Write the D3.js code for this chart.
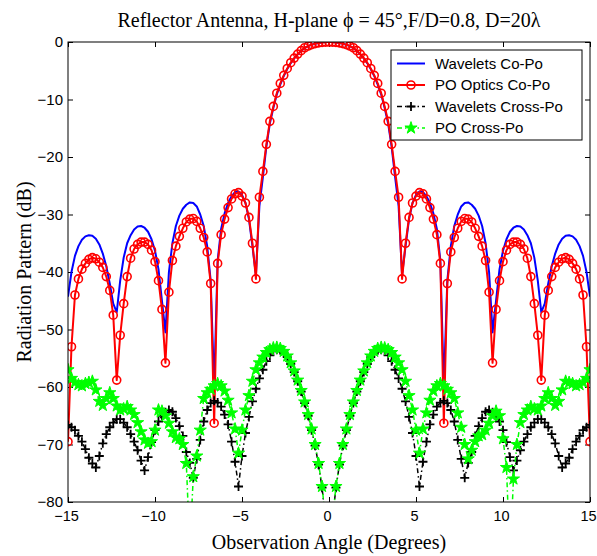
<!DOCTYPE html>
<html>
<head>
<meta charset="utf-8">
<script src="https://cdn.jsdelivr.net/npm/d3@7"></script>
<style>
  body { margin: 0; background: #fff; }
  text { fill: #000; }
</style>
</head>
<body>
<svg id="chart" width="597" height="556"></svg>
<script>
// Observation angles, degrees (0.2 degree sampling from -15 to 15)
const angleStep = 0.2;
const angles = d3.range(151).map(i => +(-15 + i * angleStep).toFixed(1));

// Wavelets co-polar pattern (dB)
const waveletsCoPo = [
  -44.3, -40, -37.2, -35.5, -34.4, -33.8, -33.6, -33.7, -34.2, -35.2,
  -36.8, -39, -42, -45.5, -47, -41.5, -37.5, -35, -33.6, -32.6,
  -32.1, -32, -32.3, -33, -34.3, -36.3, -39.5, -45, -50.5, -40,
  -35, -32, -30.2, -29, -28.3, -27.9, -28, -28.6, -30, -32,
  -35.5, -41.5, -60, -38, -32.5, -29.8, -28, -26.8, -26.1, -26,
  -26.6, -28, -30.8, -35.5, -40.5, -28.5, -23.5, -18.2, -14.2, -11.5,
  -9.1, -7.4, -5.9, -4.7, -3.7, -2.85, -2.15, -1.55, -1.05, -0.72,
  -0.47, -0.29, -0.16, -0.07, -0.02, 0,
  -0.02, -0.07, -0.16, -0.29, -0.47, -0.72, -1.05, -1.55, -2.15, -2.85,
  -3.7, -4.7, -5.9, -7.4, -9.1, -11.5, -14.2, -18.2, -23.5, -28.5,
  -40.5, -35.5, -30.8, -28, -26.6, -26, -26.1, -26.8, -28, -29.8,
  -32.5, -38, -60, -41.5, -35.5, -32, -30, -28.6, -28, -27.9,
  -28.3, -29, -30.2, -32, -35, -40, -50.5, -45, -39.5, -36.3,
  -34.3, -33, -32.3, -32, -32.1, -32.6, -33.6, -35, -37.5, -41.5,
  -47, -45.5, -42, -39, -36.8, -35.2, -34.2, -33.7, -33.6, -33.8,
  -34.4, -35.5, -37.2, -40, -44.3
];

// Physical optics co-polar pattern (dB)
const poCoPo = [
  -69.5, -53, -44, -41.2, -39.5, -38.5, -37.8, -37.5, -37.7, -38.3,
  -39.2, -40.8, -43.2, -47.5, -58.8, -51, -45.5, -40.8, -37.6, -36,
  -35.2, -34.8, -34.8, -35.2, -36.2, -38.2, -41.5, -46.5, -55.8, -43.5,
  -38, -35.5, -33.8, -32.4, -31.3, -30.8, -30.7, -31.2, -32.4, -34,
  -36.5, -42, -66.3, -38.5, -33.5, -30.8, -28.8, -27.3, -26.4, -26.2,
  -26.8, -28, -30.5, -35, -41.2, -27, -22.5, -17.8, -13.8, -11.2,
  -8.9, -7.2, -5.8, -4.6, -3.6, -2.8, -2.1, -1.5, -1.0, -0.7,
  -0.45, -0.28, -0.15, -0.07, -0.02, 0,
  -0.02, -0.07, -0.15, -0.28, -0.45, -0.7, -1.0, -1.5, -2.1, -2.8,
  -3.6, -4.6, -5.8, -7.2, -8.9, -11.2, -13.8, -17.8, -22.5, -27,
  -41.2, -35, -30.5, -28, -26.8, -26.2, -26.4, -27.3, -28.8, -30.8,
  -33.5, -38.5, -66.3, -42, -36.5, -34, -32.4, -31.2, -30.7, -30.8,
  -31.3, -32.4, -33.8, -35.5, -38, -43.5, -55.8, -46.5, -41.5, -38.2,
  -36.2, -35.2, -34.8, -34.8, -35.2, -36, -37.6, -40.8, -45.5, -51,
  -58.8, -47.5, -43.2, -40.8, -39.2, -38.3, -37.7, -37.5, -37.8, -38.5,
  -39.5, -41.2, -44, -53, -69.5
];

// Wavelets cross-polar pattern (dB)
const waveletsCrossPo = [
  -66.6, -67, -67.5, -68.5, -69.5, -70.8, -72.3, -73.3, -74, -72,
  -69.8, -68.2, -67, -66.2, -65.6, -65.6, -66.2, -67, -68.2, -69.5,
  -71, -72.8, -74.5, -72.2, -69.6, -67.5, -66, -65, -64.4, -64,
  -64.3, -65.4, -66.8, -68.5, -71.3, -73.2, -75.8, -72.5, -69.2, -66,
  -64, -62.8, -62.4, -62.7, -63.4, -64.8, -66.5, -69.5, -73, -77.3,
  -72, -68, -65.2, -62.5, -60.3, -58.5, -57, -55.5, -54.5, -53.8,
  -53.5, -53.6, -54, -54.8, -56, -57.4, -59, -60.8, -62.8, -65,
  -67.5, -70.2, -73.5, -77.5, -83, -95,
  -83, -77.5, -73.5, -70.2, -67.5, -65, -62.8, -60.8, -59, -57.4,
  -56, -54.8, -54, -53.6, -53.5, -53.8, -54.5, -55.5, -57, -58.5,
  -60.3, -62.5, -65.2, -68, -72, -77.3, -73, -69.5, -66.5, -64.8,
  -63.4, -62.7, -62.4, -62.8, -64, -66, -69.2, -72.5, -75.8, -73.2,
  -71.3, -68.5, -66.8, -65.4, -64.3, -64, -64.4, -65, -66, -67.5,
  -69.6, -72.2, -74.5, -72.8, -71, -69.5, -68.2, -67, -66.2, -65.6,
  -65.6, -66.2, -67, -68.2, -69.8, -72, -74, -73.3, -72.3, -70.8,
  -69.5, -68.5, -67.5, -67, -66.6
];

// Physical optics cross-polar pattern (dB)
const poCrossPo = [
  -57, -58.5, -59.2, -59.6, -59.8, -59.4, -59.2, -59, -60.5, -62.5,
  -63.2, -62, -61, -62, -63.3, -64, -63.8, -63.4, -64, -64.8,
  -66.2, -67.8, -69.2, -69.8, -69.5, -67.5, -64, -64.2, -65, -66.3,
  -67.8, -68.8, -69, -70, -73.3, -88, -75.6, -72, -67.5, -62,
  -61, -60.4, -59.8, -59.4, -59.8, -60.7, -62.3, -64.5, -67.3, -71.5,
  -67.5, -64, -61.5, -59, -57, -55.8, -54.8, -54, -53.5, -53.2,
  -53.1, -53.3, -53.8, -54.6, -55.8, -57.2, -58.8, -60.6, -62.6, -64.8,
  -67.3, -70, -73.3, -77.3, -83, -95,
  -83, -77.3, -73.3, -70, -67.3, -64.8, -62.6, -60.6, -58.8, -57.2,
  -55.8, -54.6, -53.8, -53.3, -53.1, -53.2, -53.5, -54, -54.8, -55.8,
  -57, -59, -61.5, -64, -67.5, -71.5, -67.3, -64.5, -62.3, -60.7,
  -59.8, -59.4, -59.8, -60.4, -61, -62, -64.5, -67, -70, -72.5,
  -71, -69.5, -68.5, -68.3, -67.5, -66.3, -65, -64.2, -65, -69,
  -74, -90, -76, -70, -66.2, -64.8, -64, -63.4, -63.8, -64,
  -63.3, -62, -61, -62, -63.2, -62.5, -60.5, -59, -59.2, -59.4,
  -59.8, -59.6, -59.2, -58.5, -57
];

const xTicks = [-15, -10, -5, 0, 5, 10, 15];
const yTicks = [0, -10, -20, -30, -40, -50, -60, -70, -80];

const titleText = "Reflector Antenna, H-plane \u03d5 = 45\u00b0,F/D=0.8, D=20\u03bb";
const xLabel = "Observation Angle (Degrees)";
const yLabel = "Radiation Pattern (dB)";
const legendLabels = ["Wavelets Co-Po", "PO Optics Co-Po", "Wavelets Cross-Po", "PO Cross-Po"];

// ---- layout ----
const W = 597, H = 556;
const margin = { top: 42, right: 7, bottom: 54, left: 68 };
const svg = d3.select("#chart");
const x = d3.scaleLinear().domain([-15, 15]).range([margin.left, W - margin.right]);
const y = d3.scaleLinear().domain([-80, 0]).range([H - margin.bottom, margin.top]);

const sansFont = "'Liberation Sans', Arial, Helvetica, sans-serif";
const serifFont = "'Liberation Serif', 'Times New Roman', serif";
const labelSize = 20;

svg.append("defs").append("clipPath").attr("id", "plotClip")
  .append("rect")
  .attr("x", x(-15)).attr("y", y(0))
  .attr("width", x(15) - x(-15)).attr("height", y(-80) - y(0));

// ---- axes (inward ticks on all four sides) ----
const tickLen = 5;
const gx = svg.append("g").attr("transform", `translate(0,${y(-80)})`)
  .call(d3.axisBottom(x).tickValues(xTicks).tickSizeInner(-tickLen).tickSizeOuter(0).tickPadding(9));
const gxTop = svg.append("g").attr("transform", `translate(0,${y(0)})`)
  .call(d3.axisTop(x).tickValues(xTicks).tickSizeInner(-tickLen).tickSizeOuter(0).tickFormat(""));
const gy = svg.append("g").attr("transform", `translate(${x(-15)},0)`)
  .call(d3.axisLeft(y).tickValues(yTicks).tickSizeInner(-tickLen).tickSizeOuter(0).tickPadding(5));
const gyRight = svg.append("g").attr("transform", `translate(${x(15)},0)`)
  .call(d3.axisRight(y).tickValues(yTicks).tickSizeInner(-tickLen).tickSizeOuter(0).tickFormat(""));

[gx, gxTop, gy, gyRight].forEach(g => {
  g.select(".domain").remove();
  g.selectAll(".tick line").attr("stroke", "#000");
  g.selectAll(".tick text").attr("font-family", sansFont).attr("font-size", 15).attr("fill", "#111");
});
// bottom labels sit slightly left of their ticks
gx.selectAll(".tick text").attr("dx", "-2").attr("font-size", 14.5);

// ---- series ----
const makePoints = vals => angles.map((a, i) => ({ a, v: vals[i] }));
const line = d3.line().x(d => x(d.a)).y(d => y(d.v));
const plot = svg.append("g").attr("clip-path", "url(#plotClip)");

const plusPath = "M-4.5,0H4.5M0,-4.5V4.5";
const starPath = d3.symbol(d3.symbolStar, 46)();

const series = [
  { vals: waveletsCoPo, color: "#0000ff", width: 2, dash: null, marker: null },
  { vals: poCoPo, color: "#ff0000", width: 2, dash: null, marker: "circle" },
  { vals: waveletsCrossPo, color: "#000000", width: 1.5, dash: "5,3,1.5,3", marker: "plus" },
  { vals: poCrossPo, color: "#00ff00", width: 1.5, dash: "5,3,1.5,3", marker: "star" }
];

function drawMarker(g, type, color) {
  if (type === "circle") {
    g.append("circle").attr("r", 4).attr("fill", "none").attr("stroke", color).attr("stroke-width", 1.6);
  } else if (type === "plus") {
    g.append("path").attr("d", plusPath).attr("stroke", color).attr("stroke-width", 1.8).attr("fill", "none");
  } else if (type === "star") {
    g.append("path").attr("d", starPath).attr("fill", color).attr("stroke", color).attr("stroke-width", 1);
  }
}

series.forEach(s => {
  const pts = makePoints(s.vals);
  plot.append("path").datum(pts)
    .attr("d", line)
    .attr("fill", "none")
    .attr("stroke", s.color)
    .attr("stroke-width", s.width)
    .attr("stroke-dasharray", s.dash)
    .attr("stroke-linejoin", "round");
  if (s.marker) {
    plot.selectAll(null).data(pts.filter(d => d.v >= -80)).enter()
      .append("g")
      .attr("transform", d => `translate(${x(d.a)},${y(d.v)})`)
      .each(function () { drawMarker(d3.select(this), s.marker, s.color); });
  }
});

// ---- frame ----
svg.append("rect")
  .attr("x", x(-15)).attr("y", y(0))
  .attr("width", x(15) - x(-15)).attr("height", y(-80) - y(0))
  .attr("fill", "none").attr("stroke", "#000").attr("stroke-width", 1);

// ---- legend ----
const lg = svg.append("g").attr("transform", "translate(391,50)");
lg.append("rect").attr("width", 191).attr("height", 90)
  .attr("fill", "#fff").attr("stroke", "#000").attr("stroke-width", 1);
legendLabels.forEach((lab, i) => {
  const s = series[i];
  const ry = 13.5 + i * 21.5;
  lg.append("line").attr("x1", 6).attr("x2", 34).attr("y1", ry).attr("y2", ry)
    .attr("stroke", s.color).attr("stroke-width", s.width).attr("stroke-dasharray", s.dash);
  if (s.marker) {
    drawMarker(lg.append("g").attr("transform", `translate(20,${ry})`), s.marker, s.color);
  }
  lg.append("text").attr("x", 44).attr("y", ry).attr("dy", "0.36em")
    .attr("font-family", sansFont).attr("font-size", 15).text(lab);
});

// ---- titles ----
const cx = (x(-15) + x(15)) / 2;
svg.append("text").attr("x", cx).attr("y", 27)
  .attr("text-anchor", "middle").attr("font-family", serifFont).attr("font-size", labelSize)
  .text(titleText);
svg.append("text").attr("x", cx).attr("y", 549)
  .attr("text-anchor", "middle").attr("font-family", serifFont).attr("font-size", labelSize)
  .text(xLabel);
svg.append("text")
  .attr("transform", `translate(31,${(y(0) + y(-80)) / 2}) rotate(-90)`)
  .attr("text-anchor", "middle").attr("font-family", serifFont).attr("font-size", labelSize)
  .text(yLabel);
</script>
</body>
</html>
